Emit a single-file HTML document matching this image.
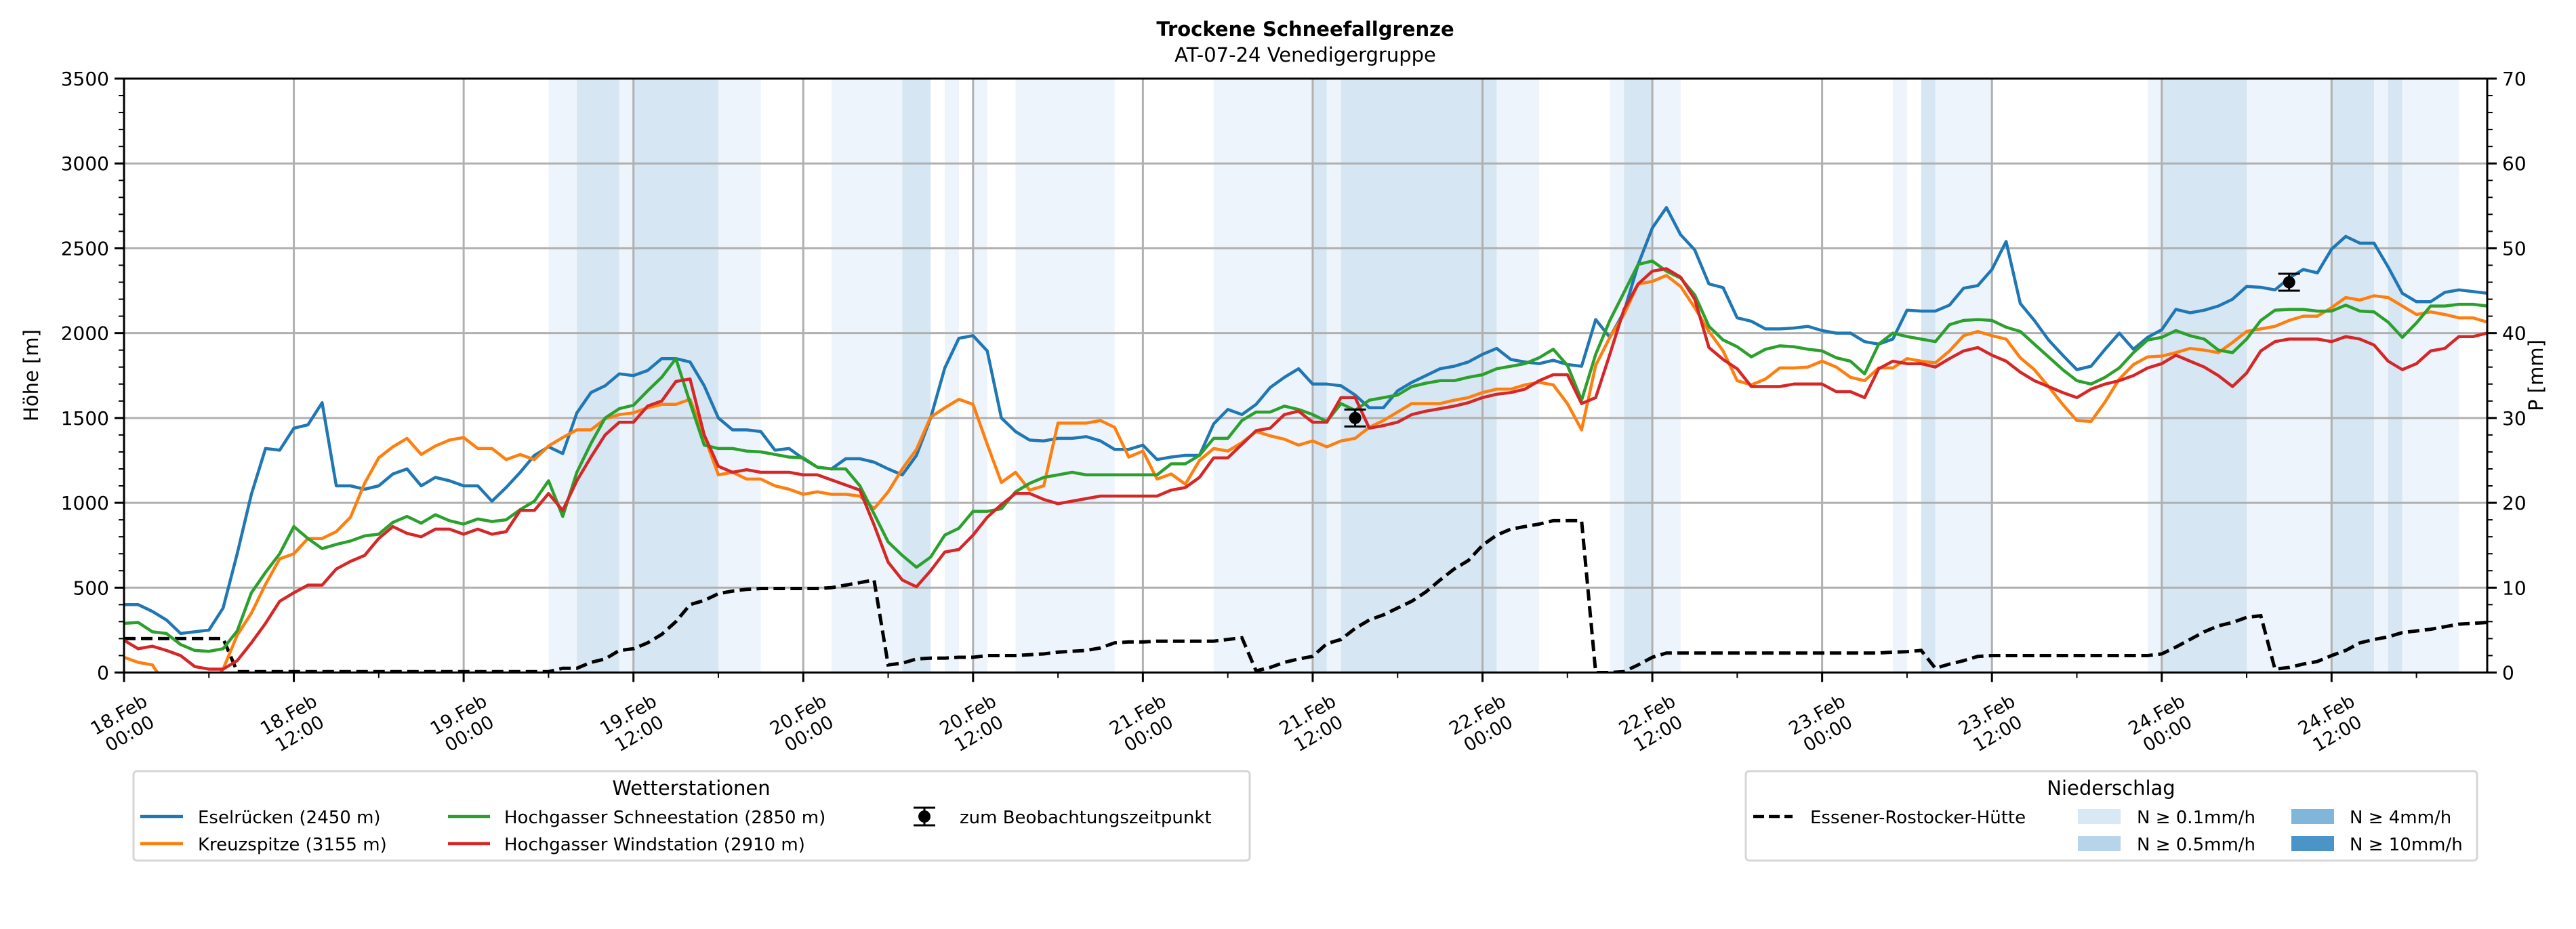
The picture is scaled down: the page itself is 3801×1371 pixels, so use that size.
<!DOCTYPE html>
<html><head><meta charset="utf-8">
<style>
html,body{margin:0;padding:0;background:#fff;}
svg{display:block;font-family:"DejaVu Sans","Liberation Sans",sans-serif;}
</style></head>
<body>
<svg id="chart" width="3801" height="1371" viewBox="0 0 3801 1371" xmlns="http://www.w3.org/2000/svg">
<rect width="3801" height="1371" fill="#fff"/>
<g id="bands"></g>
<g id="grid"></g>
<g id="series"></g>
<g id="axes"></g>
<text x="1926" y="53" text-anchor="middle" font-size="29" font-weight="bold">Trockene Schneefallgrenze</text>
<text x="1926" y="91" text-anchor="middle" font-size="29">AT-07-24 Venedigergruppe</text>
<text transform="translate(56,554) rotate(-90)" text-anchor="middle" font-size="29">Höhe [m]</text>
<text transform="translate(3752,554) rotate(-90)" text-anchor="middle" font-size="29">P [mm]</text>
<g>
<rect x="197" y="1138" width="1647" height="132" rx="5" fill="#fff" stroke="#d6d6d6" stroke-width="3"/>
<text x="1020" y="1173" text-anchor="middle" font-size="29">Wetterstationen</text>
<g><line x1="207" y1="1205" x2="270" y2="1205" stroke="#1f77b4" stroke-width="4.5"/><text x="292" y="1215" font-size="26">Eselrücken (2450 m)</text></g>
<g><line x1="207" y1="1245" x2="270" y2="1245" stroke="#ff7f0e" stroke-width="4.5"/><text x="292" y="1255" font-size="26">Kreuzspitze (3155 m)</text></g>
<g><line x1="661" y1="1205" x2="723" y2="1205" stroke="#2ca02c" stroke-width="4.5"/><text x="744" y="1215" font-size="26">Hochgasser Schneestation (2850 m)</text></g>
<g><line x1="661" y1="1245" x2="723" y2="1245" stroke="#d62728" stroke-width="4.5"/><text x="744" y="1255" font-size="26">Hochgasser Windstation (2910 m)</text></g>
<g><line x1="1364" y1="1192" x2="1364" y2="1218" stroke="#000" stroke-width="3"/><line x1="1348" y1="1192" x2="1380" y2="1192" stroke="#000" stroke-width="3"/><line x1="1348" y1="1218" x2="1380" y2="1218" stroke="#000" stroke-width="3"/><circle cx="1364" cy="1205" r="9" fill="#000"/><text x="1416" y="1215" font-size="26">zum Beobachtungszeitpunkt</text></g>
</g>
<g>
<rect x="2576" y="1138" width="1079" height="132" rx="5" fill="#fff" stroke="#d6d6d6" stroke-width="3"/>
<text x="3115" y="1173" text-anchor="middle" font-size="29">Niederschlag</text>
<g><line x1="2587" y1="1205" x2="2645" y2="1205" stroke="#000" stroke-width="4.5" stroke-dasharray="16,7"/><text x="2671" y="1215" font-size="26">Essener-Rostocker-Hütte</text></g>
<g><rect x="3066" y="1194" width="63" height="22" fill="#d9e8f5"/><text x="3153" y="1215" font-size="26">N ≥ 0.1mm/h</text></g>
<g><rect x="3066" y="1234" width="63" height="22" fill="#b8d4ea"/><text x="3153" y="1255" font-size="26">N ≥ 0.5mm/h</text></g>
<g><rect x="3381" y="1194" width="63" height="22" fill="#7fb6d9"/><text x="3467" y="1215" font-size="26">N ≥ 4mm/h</text></g>
<g><rect x="3381" y="1234" width="63" height="22" fill="#4a94c7"/><text x="3467" y="1255" font-size="26">N ≥ 10mm/h</text></g>
</g>
</svg>
<script>
// hourly data, hour 0 = 18.Feb 00:00
const eselruecken = [400,400,360,310,230,240,250,380,700,1050,1320,1310,1440,1460,1590,1100,1100,1080,1100,1170,1200,1100,1150,1130,1100,1100,1010,1090,1180,1280,1330,1290,1530,1650,1690,1760,1750,1780,1850,1850,1830,1690,1500,1430,1430,1420,1310,1320,1260,1210,1200,1260,1260,1240,1200,1165,1280,1500,1795,1970,1985,1895,1500,1420,1370,1365,1380,1380,1390,1365,1315,1315,1340,1255,1270,1280,1280,1465,1550,1520,1580,1680,1740,1790,1700,1700,1690,1635,1560,1560,1660,1710,1750,1790,1805,1830,1875,1910,1845,1830,1820,1840,1815,1805,2080,1975,2125,2405,2620,2740,2580,2490,2290,2268,2090,2070,2025,2025,2030,2040,2015,2000,2000,1950,1935,1965,2135,2130,2130,2165,2265,2280,2375,2540,2175,2075,1960,1870,1785,1805,1905,2000,1905,1975,2020,2140,2120,2135,2160,2200,2275,2270,2255,2325,2375,2355,2495,2570,2530,2530,2390,2235,2185,2185,2240,2255,2245,2235];
const kreuzspitze = [90,60,45,-80,-100,-100,-100,20,220,350,520,670,700,790,790,830,915,1115,1265,1330,1380,1285,1335,1370,1385,1320,1320,1255,1285,1255,1335,1385,1430,1430,1495,1520,1530,1560,1580,1580,1610,1395,1165,1180,1140,1140,1100,1080,1050,1065,1050,1050,1040,965,1065,1200,1315,1505,1560,1610,1580,1345,1120,1180,1075,1100,1470,1470,1470,1485,1445,1270,1305,1140,1170,1110,1250,1320,1305,1355,1420,1395,1375,1340,1365,1330,1365,1380,1445,1485,1535,1585,1585,1585,1605,1620,1650,1670,1670,1695,1710,1695,1585,1430,1810,1975,2110,2290,2305,2340,2275,2150,2010,1895,1720,1695,1730,1795,1795,1800,1835,1800,1740,1720,1795,1795,1850,1835,1825,1895,1985,2010,1985,1965,1855,1785,1685,1580,1485,1480,1595,1730,1815,1860,1865,1885,1910,1900,1885,1945,2010,2025,2040,2075,2100,2100,2150,2210,2195,2220,2210,2160,2110,2125,2110,2090,2090,2065];
const schneestation = [290,295,240,230,165,130,125,140,245,470,590,700,860,790,730,755,775,805,815,885,920,880,930,895,875,905,890,900,960,1010,1130,920,1180,1350,1500,1555,1575,1660,1740,1850,1590,1340,1320,1320,1305,1300,1285,1270,1265,1210,1200,1200,1100,935,770,690,620,680,810,850,950,950,965,1065,1115,1150,1165,1180,1165,1165,1165,1165,1165,1165,1230,1230,1280,1380,1380,1485,1535,1535,1570,1550,1520,1480,1585,1545,1605,1620,1635,1685,1705,1720,1720,1740,1755,1790,1805,1820,1855,1905,1810,1605,1875,2075,2240,2405,2425,2365,2325,2225,2040,1960,1920,1860,1905,1925,1920,1905,1895,1855,1835,1760,1935,2000,1980,1965,1950,2050,2075,2080,2075,2035,2010,1935,1860,1785,1720,1700,1740,1795,1885,1960,1975,2015,1985,1965,1900,1885,1965,2075,2135,2140,2140,2130,2130,2165,2130,2125,2065,1975,2060,2160,2160,2170,2170,2160];
const windstation = [190,140,155,130,100,35,20,20,70,175,290,420,470,515,515,610,655,690,790,860,820,800,845,845,815,845,815,830,955,955,1055,955,1130,1270,1400,1475,1475,1570,1600,1715,1730,1400,1215,1180,1195,1180,1180,1180,1165,1165,1135,1105,1075,870,650,545,505,600,710,725,810,915,990,1055,1055,1020,995,1010,1025,1040,1040,1040,1040,1040,1075,1090,1150,1265,1265,1345,1425,1440,1520,1540,1475,1475,1620,1620,1440,1455,1475,1520,1540,1555,1570,1590,1620,1640,1650,1670,1720,1755,1755,1585,1620,1875,2140,2290,2365,2380,2330,2200,1915,1845,1790,1685,1685,1685,1700,1700,1700,1655,1655,1620,1790,1835,1820,1820,1800,1850,1895,1915,1870,1835,1770,1720,1685,1650,1620,1670,1700,1720,1750,1795,1820,1870,1835,1800,1750,1685,1765,1895,1950,1965,1965,1965,1950,1980,1965,1930,1835,1785,1820,1895,1910,1980,1980,2000];
const precipHuette = [4,4,4,4,4,4,4,4,0.1,0.1,0.1,0.1,0.1,0.1,0.1,0.1,0.1,0.1,0.1,0.1,0.1,0.1,0.1,0.1,0.1,0.1,0.1,0.1,0.1,0.1,0.1,0.5,0.5,1.2,1.6,2.6,2.8,3.5,4.5,6.0,8.0,8.5,9.3,9.6,9.8,9.9,9.9,9.9,9.9,9.9,10.0,10.3,10.6,10.9,0.9,1.1,1.6,1.7,1.7,1.8,1.8,2.0,2.0,2.0,2.1,2.2,2.4,2.5,2.6,2.9,3.5,3.6,3.6,3.7,3.7,3.7,3.7,3.7,3.9,4.1,0.2,0.6,1.2,1.6,1.9,3.4,3.9,5.2,6.2,6.8,7.6,8.4,9.5,10.9,12.2,13.2,15.0,16.2,16.9,17.2,17.5,17.9,17.9,17.9,0.0,0.0,0.1,0.9,1.8,2.3,2.3,2.3,2.3,2.3,2.3,2.3,2.3,2.3,2.3,2.3,2.3,2.3,2.3,2.3,2.3,2.4,2.45,2.6,0.5,1.0,1.4,1.9,2.0,2.0,2.0,2.0,2.0,2.0,2.0,2.0,2.0,2.0,2.0,2.0,2.2,3.0,3.9,4.8,5.5,5.9,6.5,6.7,0.4,0.6,1.0,1.3,2.0,2.6,3.5,3.9,4.2,4.7,4.9,5.1,5.4,5.7,5.8,5.9];
// precipitation intensity bands: start hour, end hour, level (1: >=0.1, 2: >=0.5)
const bandStart = [30,32,35,36,42,50,55,58,60,63,77,84,85,86,97,105,106,108,125,127,128,143,144,150,156,159,160,161];
const bandEnd   = [32,35,36,42,45,55,57,59,61,70,84,85,86,98,100,106,108,110,126,128,132,144,150,156,159,160,161,165];
const bandLevel = [1,2,1,2,1,1,2,1,1,1,1,2,1,2,1,1,2,1,1,2,1,1,2,1,2,1,2,1];
const obsHour = [87,153];
const obsValue = [1500,2300];
const obsErr = [50,50];
const yTicks = [0,500,1000,1500,2000,2500,3000,3500];
const y2Ticks = [0,10,20,30,40,50,60,70];
const xTickLabels = ["18.Feb|00:00","18.Feb|12:00","19.Feb|00:00","19.Feb|12:00","20.Feb|00:00","20.Feb|12:00","21.Feb|00:00","21.Feb|12:00","22.Feb|00:00","22.Feb|12:00","23.Feb|00:00","23.Feb|12:00","24.Feb|00:00","24.Feb|12:00"];

const NS='http://www.w3.org/2000/svg';
const L=183,R=3670,T=116,B=992.5,HMAX=167;
const x=h=>L+h*(R-L)/HMAX;
const y=v=>B-v*(B-T)/3500;
const y2=p=>B-p*(B-T)/70;
function mk(tag,attrs,parent){const e=document.createElementNS(NS,tag);for(const k in attrs)e.setAttribute(k,attrs[k]);parent.appendChild(e);return e;}
const gB=document.getElementById('bands'),gG=document.getElementById('grid'),gS=document.getElementById('series'),gA=document.getElementById('axes');
const bandColors=['#ffffff','#eef4fb','#d6e6f3'];
for(let i=0;i<bandStart.length;i++){
  const r=mk('rect',{x:x(bandStart[i]),y:T,width:x(bandEnd[i])-x(bandStart[i]),height:B-T,fill:bandColors[bandLevel[i]]},gB);
  
  
}
// grid
yTicks.forEach(v=>{const l=mk('line',{x1:L,x2:R,y1:y(v),y2:y(v),stroke:'#b0b0b0','stroke-width':3},gG);});
xTickLabels.forEach((s,i)=>{const l=mk('line',{x1:x(i*12),x2:x(i*12),y1:T,y2:B,stroke:'#b0b0b0','stroke-width':3},gG);});
// clip
const defs=mk('defs',{},document.getElementById('chart'));
const cp=mk('clipPath',{id:'pc'},defs);mk('rect',{x:L,y:T,width:R-L,height:B-T},cp);
gS.setAttribute('clip-path','url(#pc)');
// precip line
let d=precipHuette.map((p,i)=>(i?'L':'M')+x(i).toFixed(1)+','+y2(p).toFixed(1)).join('');
const pl=mk('path',{d:d,fill:'none',stroke:'#000','stroke-width':5,'stroke-dasharray':'17,8'},gS);


const ser=[[eselruecken,'#1f77b4','line-eselruecken'],[kreuzspitze,'#ff7f0e','line-kreuzspitze'],[schneestation,'#2ca02c','line-schneestation'],[windstation,'#d62728','line-windstation']];
ser.forEach(s=>{
  const dd=s[0].map((v,i)=>(i?'L':'M')+x(i).toFixed(1)+','+y(v).toFixed(1)).join('');
  const p=mk('path',{d:dd,fill:'none',stroke:s[1],'stroke-width':4.5,'stroke-linejoin':'round'},gS);
  
  
});
obsHour.forEach((h,i)=>{
  const g=mk('g',{},gS);
  
  
  const cx=x(h),t=y(obsValue[i]+obsErr[i]),b=y(obsValue[i]-obsErr[i]);
  mk('line',{x1:cx,x2:cx,y1:t,y2:b,stroke:'#000','stroke-width':3},g);
  mk('line',{x1:cx-16,x2:cx+16,y1:t,y2:t,stroke:'#000','stroke-width':3},g);
  mk('line',{x1:cx-16,x2:cx+16,y1:b,y2:b,stroke:'#000','stroke-width':3},g);
  mk('circle',{cx:cx,cy:y(obsValue[i]),r:9,fill:'#000'},g);
});
// axes frame
mk('rect',{x:L,y:T,width:R-L,height:B-T,fill:'none',stroke:'#000','stroke-width':3},gA);
for(let v=0;v<=3500;v+=100){const mj=v%500===0;mk('line',{x1:L-(mj?14:8),x2:L,y1:y(v),y2:y(v),stroke:'#000','stroke-width':mj?3:2},gA);}
for(let p=0;p<=70;p+=2){const mj=p%10===0;mk('line',{x1:R,x2:R+(mj?14:8),y1:y2(p),y2:y2(p),stroke:'#000','stroke-width':mj?3:2},gA);}
for(let h=0;h<=HMAX;h+=6){const mj=h%12===0;mk('line',{x1:x(h),x2:x(h),y1:B,y2:B+(mj?14:8),stroke:'#000','stroke-width':mj?3:2},gA);}
yTicks.forEach(v=>{const t=mk('text',{x:L-22,y:y(v)+10,'text-anchor':'end','font-size':28},gA);t.textContent=v;});
y2Ticks.forEach(v=>{const t=mk('text',{x:R+22,y:y2(v)+10,'font-size':28},gA);t.textContent=v;});
xTickLabels.forEach((s,i)=>{
  const parts=s.split('|');
  const t=mk('text',{transform:'translate('+x(i*12)+',1068) rotate(-30)','text-anchor':'middle','font-size':27},gA);
  
  
  mk('tspan',{x:0,y:-6},t).textContent=parts[0];
  mk('tspan',{x:0,y:26},t).textContent=parts[1];
});
</script>
</body></html>
